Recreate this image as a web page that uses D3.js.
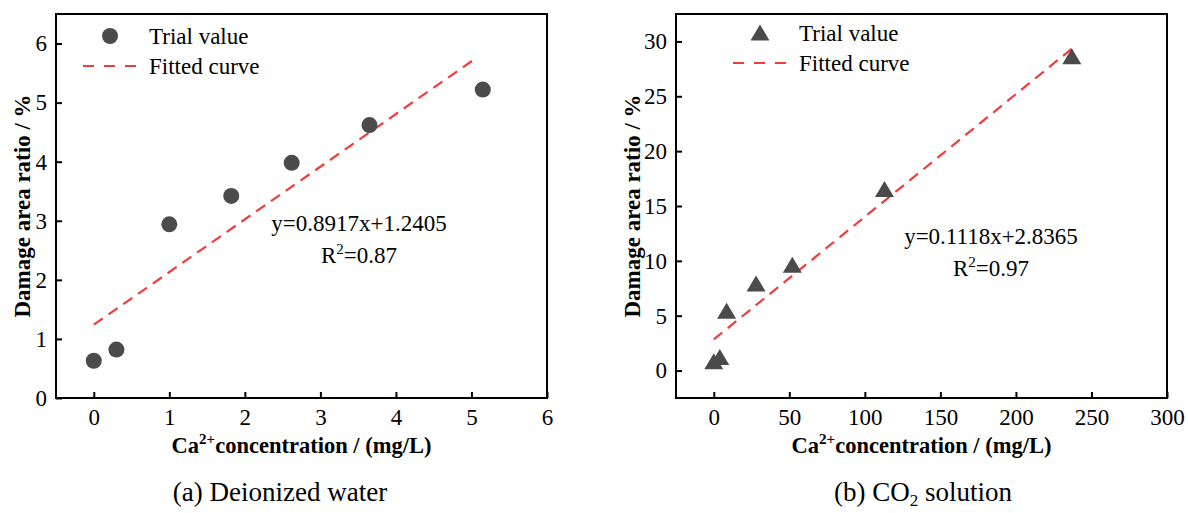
<!DOCTYPE html>
<html>
<head>
<meta charset="utf-8">
<script src="https://cdn.jsdelivr.net/npm/d3@7"></script>
<style>
  body { margin: 0; background: #fff; }
  text { font-family: "Liberation Serif", "Times New Roman", serif; fill: #000; }
</style>
</head>
<body>
<div id="chart"></div>
<script>
// ---- data ----
// (a) Deionized water
var waterCa = [0, 0.3, 1.0, 1.82, 2.62, 3.65, 5.15];
var waterDamage = [0.63, 0.82, 2.94, 3.42, 3.98, 4.62, 5.22];
var waterFit = [0.8917, 1.2405];      // slope, intercept
var waterFitRange = [0, 5.08];
var waterXTicks = [0, 1, 2, 3, 4, 5, 6];
var waterYTicks = [0, 1, 2, 3, 4, 5, 6];

// (b) CO2 solution
var co2Ca = [0, 4, 8.5, 28, 52, 113, 237];
var co2Damage = [0.8, 1.2, 5.4, 7.9, 9.6, 16.5, 28.6];
var co2Fit = [0.1118, 2.8365];
var co2FitRange = [0, 237];
var co2XTicks = [0, 50, 100, 150, 200, 250, 300];
var co2YTicks = [0, 5, 10, 15, 20, 25, 30];

var W = 1188, H = 513;
var markerColor = "#4b4b4b";
var fitColor = "#f03c3c";

var svg = d3.select("#chart").append("svg")
  .attr("width", W)
  .attr("height", H);

function drawPanel(p) {
  var g = svg.append("g");

  var x = d3.scaleLinear().domain(p.xDomain).range([p.left, p.right]);
  var y = d3.scaleLinear().domain(p.yDomain).range([p.bottom, p.top]);

  // frame
  g.append("rect")
    .attr("x", p.left).attr("y", p.top)
    .attr("width", p.right - p.left).attr("height", p.bottom - p.top)
    .attr("fill", "none").attr("stroke", "#000").attr("stroke-width", 2);

  // axes, ticks pointing inward
  var xAxis = d3.axisBottom(x).tickValues(p.xTicks).tickFormat(d3.format("d"))
    .tickSizeInner(-6).tickSizeOuter(0).tickPadding(10);
  var yAxis = d3.axisLeft(y).tickValues(p.yTicks).tickFormat(d3.format("d"))
    .tickSizeInner(-6).tickSizeOuter(0).tickPadding(9);

  var gx = g.append("g").attr("transform", "translate(0," + p.bottom + ")").call(xAxis);
  var gy = g.append("g").attr("transform", "translate(" + p.left + ",0)").call(yAxis);
  [gx, gy].forEach(function (a) {
    a.select(".domain").remove();
    a.attr("font-family", null).attr("font-size", null);
    a.selectAll("line").attr("stroke", "#000").attr("stroke-width", 2);
    a.selectAll("text")
      .style("font-family", "Liberation Serif")
      .style("font-size", "23px")
      .attr("fill", "#000");
  });
  gx.selectAll("text").attr("dy", "0.75em");

  // fitted line
  var line = d3.line().x(function (d) { return x(d); })
    .y(function (d) { return y(p.fit[0] * d + p.fit[1]); });
  g.append("path")
    .attr("d", line(p.fitRange))
    .attr("fill", "none")
    .attr("stroke", fitColor)
    .attr("stroke-width", 2.2)
    .attr("stroke-dasharray", "11,7");

  // markers
  var pts = p.xs.map(function (v, i) { return [v, p.ys[i]]; });
  if (p.marker === "circle") {
    g.selectAll(".pt").data(pts).enter().append("circle")
      .attr("cx", function (d) { return x(d[0]); })
      .attr("cy", function (d) { return y(d[1]); })
      .attr("r", 8)
      .attr("fill", markerColor);
  } else {
    g.selectAll(".pt").data(pts).enter().append("path")
      .attr("d", triangle)
      .attr("transform", function (d) { return "translate(" + x(d[0]) + "," + y(d[1]) + ")"; })
      .attr("fill", markerColor);
  }

  // legend
  var lg = g.append("g");
  if (p.marker === "circle") {
    lg.append("circle").attr("cx", p.legX).attr("cy", p.legY).attr("r", 8).attr("fill", markerColor);
  } else {
    lg.append("path").attr("d", triangle)
      .attr("transform", "translate(" + p.legX + "," + p.legY + ")")
      .attr("fill", markerColor);
  }
  lg.append("line")
    .attr("x1", p.legX - 27).attr("x2", p.legX + 27)
    .attr("y1", p.legY + 30).attr("y2", p.legY + 30)
    .attr("stroke", fitColor).attr("stroke-width", 2.2)
    .attr("stroke-dasharray", "11,10");
  lg.append("text").attr("x", p.legX + 39).attr("y", p.legY + 8)
    .style("font-size", "23px").text("Trial value");
  lg.append("text").attr("x", p.legX + 39).attr("y", p.legY + 38)
    .style("font-size", "23px").text("Fitted curve");

  // equation
  g.append("text").attr("x", p.eqX).attr("y", p.eqY)
    .attr("text-anchor", "middle").style("font-size", "23px")
    .text(p.eqText);
  var r2 = g.append("text").attr("x", p.eqX).attr("y", p.eqY + 32)
    .attr("text-anchor", "middle").style("font-size", "23px");
  r2.append("tspan").text("R");
  r2.append("tspan").attr("dy", -9).style("font-size", "15px").text("2");
  r2.append("tspan").attr("dy", 9).text("=" + p.r2);

  // axis titles
  var xt = g.append("text")
    .attr("x", (p.left + p.right) / 2).attr("y", p.bottom + 55)
    .attr("text-anchor", "middle")
    .style("font-size", "22.5px").style("font-weight", "bold");
  xt.append("tspan").text("Ca");
  xt.append("tspan").attr("dy", -9).style("font-size", "15px").text("2+");
  xt.append("tspan").attr("dy", 9).text("concentration / (mg/L)");

  g.append("text")
    .attr("transform", "translate(" + p.yTitleX + "," + (p.top + p.bottom) / 2 + ") rotate(-90)")
    .attr("text-anchor", "middle")
    .style("font-size", "23px").style("font-weight", "bold")
    .text("Damage area ratio / %");

  // caption
  var cap = g.append("text")
    .attr("x", p.capX).attr("y", 501)
    .attr("text-anchor", "middle").style("font-size", "27px");
  p.caption(cap);
}

function triangle() {
  return "M0,-8.5L9.5,7.5L-9.5,7.5Z";
}

drawPanel({
  left: 56, right: 547, top: 14, bottom: 398,
  xDomain: [-0.5, 6], yDomain: [0, 6.5],
  xTicks: waterXTicks, yTicks: waterYTicks,
  xs: waterCa, ys: waterDamage,
  fit: waterFit, fitRange: waterFitRange,
  marker: "circle",
  legX: 110, legY: 36,
  eqX: 359, eqY: 231, eqText: "y=0.8917x+1.2405", r2: "0.87",
  yTitleX: 30, capX: 280,
  caption: function (t) { t.text("(a) Deionized water"); }
});

drawPanel({
  left: 676, right: 1167, top: 14, bottom: 398,
  xDomain: [-25, 300], yDomain: [-2.5, 32.5],
  xTicks: co2XTicks, yTicks: co2YTicks,
  xs: co2Ca, ys: co2Damage,
  fit: co2Fit, fitRange: co2FitRange,
  marker: "triangle",
  legX: 760, legY: 33,
  eqX: 991, eqY: 244, eqText: "y=0.1118x+2.8365", r2: "0.97",
  yTitleX: 640, capX: 923,
  caption: function (t) {
    t.append("tspan").text("(b) CO");
    t.append("tspan").attr("dy", 5).style("font-size", "17px").text("2");
    t.append("tspan").attr("dy", -5).text(" solution");
  }
});
</script>
</body>
</html>
